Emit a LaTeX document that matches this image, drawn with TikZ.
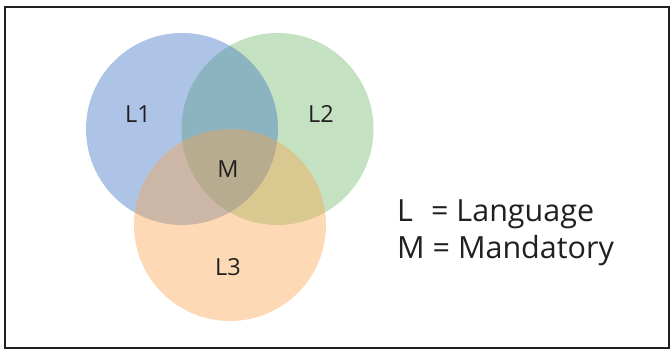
\documentclass[tikz,border=0pt]{standalone}
\usepackage{fontspec}
\setmainfont{Open Sans}
\definecolor{setblue}{RGB}{53,108,192}
\definecolor{setgreen}{RGB}{108,183,100}
\definecolor{setorange}{RGB}{250,163,70}
\definecolor{frame}{RGB}{35,31,32}
\begin{document}
\begin{tikzpicture}[x=1pt,y=-1pt,
  setdisc/.style={circle,minimum size=192pt,inner sep=0pt,fill opacity=0.4},
  setlabel/.style={font=\fontsize{23.5}{26}\selectfont,text=frame},
  legend/.style={font=\fontsize{30.5}{32}\selectfont,text=frame,anchor=base west,inner sep=0pt}]
  \useasboundingbox (0,0) rectangle (670,351);
  \draw[frame,line width=2pt] (5,7) rectangle (669,348);
  % the three sets, drawn green, blue, orange
  \node[setdisc,fill=setgreen] (L2) at (277.5,129) {};
  \node[setdisc,fill=setblue] (L1) at (182,129) {};
  \node[setdisc,fill=setorange] (L3) at (230,225) {};
  % labels
  \node[setlabel] (t1) at (138,114) {L1};
  \node[setlabel] (t2) at (321,114) {L2};
  \node[setlabel] (tm) at (228,169) {M};
  \node[setlabel] (t3) at (228,267) {L3};
  \node[legend] (key1) at (397,221.5) {L\,\, = Language};
  \node[legend] (key2) at (397,258) {M = Mandatory};
\end{tikzpicture}
\end{document}
